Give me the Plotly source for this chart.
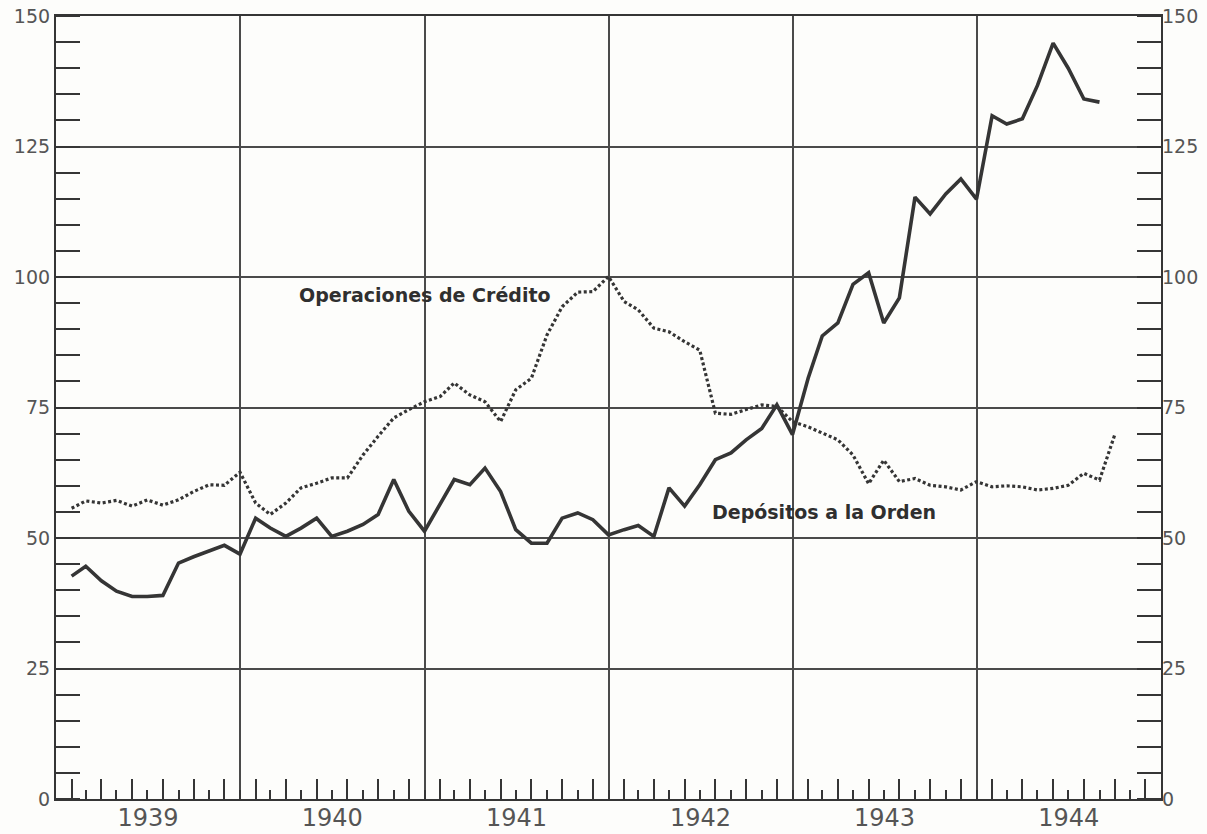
import pandas as pd
import plotly.graph_objects as go

# ---- data (monthly, end-of-month observations, Jan 1939 onward) ----
start_month = "1939-02-01"  # end of Jan 1939

depositos_orden = [
    # 1939
    42.7, 44.6, 41.8, 39.8, 38.8, 38.8, 39.0, 45.2, 46.4, 47.6, 48.6, 46.9,
    # 1940
    53.8, 51.9, 50.3, 51.9, 53.8, 50.3, 51.3, 52.6, 54.5, 61.2, 55.1, 51.3,
    # 1941
    56.4, 61.2, 60.2, 63.4, 58.9, 51.6, 49.0, 49.0, 53.8, 54.8, 53.5, 50.6,
    # 1942
    51.6, 52.4, 50.3, 59.6, 56.1, 60.2, 65.0, 66.3, 68.8, 71.0, 75.5, 69.8,
    # 1943
    80.6, 88.7, 91.2, 98.6, 100.8, 91.2, 96.0, 115.3, 112.1, 115.9, 118.8, 114.9,
    # 1944
    130.9, 129.3, 130.3, 136.7, 144.8, 140.0, 134.1, 133.5,
]

operaciones_credito = [
    # 1939
    55.7, 57.1, 56.7, 57.2, 56.1, 57.3, 56.3, 57.3, 58.9, 60.2, 60.1, 62.6,
    # 1940
    56.7, 54.5, 56.7, 59.6, 60.5, 61.5, 61.5, 65.9, 69.5, 73.0, 74.6, 76.1,
    # 1941
    77.1, 79.7, 77.4, 76.1, 72.3, 78.4, 80.6, 88.9, 94.3, 97.1, 97.2, 100.1,
    # 1942
    95.3, 93.7, 90.2, 89.5, 87.6, 86.0, 73.9, 73.7, 74.6, 75.5, 75.2, 72.3,
    # 1943
    71.3, 70.1, 68.8, 65.9, 60.4, 64.9, 60.8, 61.4, 60.1, 59.8, 59.2, 60.8,
    # 1944
    59.8, 60.0, 59.8, 59.2, 59.5, 60.1, 62.4, 61.1, 69.7,
]

y_ticks = [0, 25, 50, 75, 100, 125, 150]
x_range = ["1939-01-01", "1945-01-01"]
label_operaciones = "Operaciones de Crédito"
label_depositos = "Depósitos a la Orden"

# ---- styling ----
INK = "#353535"
GRID = "#4a4a4a"
TXT = "#555555"
BG = "#fdfdfb"
FONT = "DejaVu Sans"

dates_dep = pd.date_range(start_month, periods=len(depositos_orden), freq="MS")
dates_ope = pd.date_range(start_month, periods=len(operaciones_credito), freq="MS")

fig = go.Figure()

fig.add_trace(go.Scatter(
    x=dates_ope, y=operaciones_credito, mode="lines",
    line=dict(color=INK, width=3.2, dash="3px,2.5px"),
    name=label_operaciones, showlegend=False, hoverinfo="skip",
))
fig.add_trace(go.Scatter(
    x=dates_dep, y=depositos_orden, mode="lines",
    line=dict(color=INK, width=3.6),
    name=label_depositos, showlegend=False, hoverinfo="skip",
))
# empty trace to register the overlay axes (month ticks, right scale)
fig.add_trace(go.Scatter(x=[], y=[], xaxis="x2", yaxis="y2",
                         showlegend=False, hoverinfo="skip"))

fig.update_layout(
    template="none",
    width=1207, height=834,
    margin=dict(l=56, r=46, t=16, b=35),
    paper_bgcolor=BG, plot_bgcolor=BG,
    font=dict(family=FONT, color=TXT),
    showlegend=False,
    xaxis=dict(
        type="date", range=x_range, dtick="M12", tick0="1939-01-01",
        tickformat="%Y", ticklabelmode="period", ticks="",
        ticklabelstandoff=-4,
        showgrid=True, gridcolor=GRID, gridwidth=1.6,
        showline=True, mirror=True, linecolor=INK, linewidth=2.2,
        zeroline=False, tickfont=dict(size=24, color=TXT, family=FONT),
        automargin=False, fixedrange=True,
    ),
    xaxis2=dict(
        type="date", range=x_range, overlaying="x", anchor="y2", side="bottom",
        tick0="1939-02-01", dtick="M2", ticks="inside", ticklen=20,
        tickwidth=1.5, tickcolor=INK, showticklabels=False, showgrid=False,
        showline=False, zeroline=False,
        minor=dict(dtick="M1", tick0="1939-01-01", ticks="inside", ticklen=9,
                   tickwidth=1.5, tickcolor=INK, showgrid=False),
        automargin=False, fixedrange=True,
    ),
    yaxis=dict(
        range=[0, 150], tickvals=y_ticks, ticks="",
        showgrid=True, gridcolor=GRID, gridwidth=1.6,
        showline=True, mirror=True, linecolor=INK, linewidth=2.2,
        zeroline=False, tickfont=dict(size=19, color=TXT, family=FONT),
        minor=dict(dtick=5, tick0=0, ticks="inside", ticklen=24,
                   tickwidth=1.6, tickcolor=INK, showgrid=False),
        automargin=False, fixedrange=True,
    ),
    yaxis2=dict(
        range=[0, 150], tickvals=y_ticks, ticks="", overlaying="y",
        side="right", anchor="x2", showgrid=False, showline=False,
        zeroline=False, tickfont=dict(size=19, color=TXT, family=FONT),
        minor=dict(dtick=5, tick0=0, ticks="inside", ticklen=24,
                   tickwidth=1.6, tickcolor=INK, showgrid=False),
        automargin=False, fixedrange=True,
    ),
    annotations=[
        dict(x="1941-01-01", y=96.5, xref="x", yref="y", text=label_operaciones,
             showarrow=False,
             font=dict(size=19, color="#2f2f2f", family=FONT, weight="bold"),
             xanchor="center", yanchor="middle"),
        dict(x="1943-03-05", y=55, xref="x", yref="y", text=label_depositos,
             showarrow=False,
             font=dict(size=19, color="#2f2f2f", family=FONT, weight="bold"),
             xanchor="center", yanchor="middle"),
    ],
)

fig.write_html("out.html",
               config={"displayModeBar": False},
               post_script="document.body.style.margin='0';")
